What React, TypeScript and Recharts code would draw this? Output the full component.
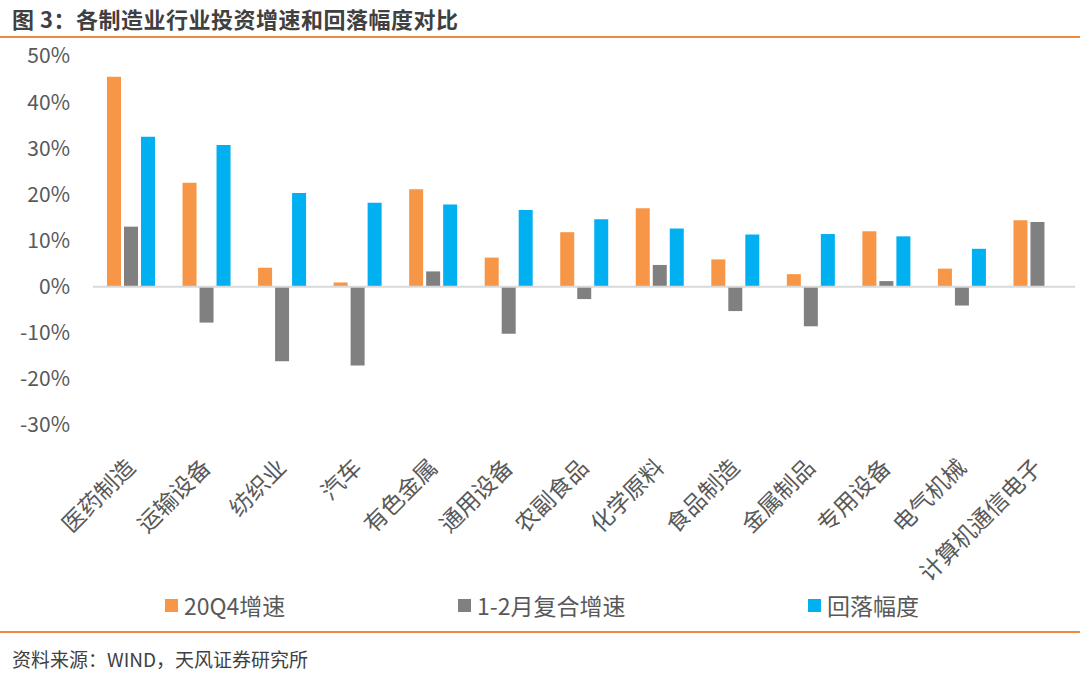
import React from 'react';
import { BarChart, Bar, XAxis, YAxis, ReferenceLine, Legend } from 'recharts';

const categories = ['医药制造', '运输设备', '纺织业', '汽车', '有色金属', '通用设备', '农副食品', '化学原料', '食品制造', '金属制品', '专用设备', '电气机械', '计算机通信电子'];
const q4Growth = [45.5, 22.5, 4.1, 0.9, 21.1, 6.3, 11.8, 17.0, 5.9, 2.7, 12.0, 3.9, 14.4];
const janFebGrowth = [13.0, -7.8, -16.2, -17.1, 3.3, -10.2, -2.7, 4.7, -5.3, -8.6, 1.2, -4.1, 14.0];
const fallback = [32.5, 30.7, 20.3, 18.2, 17.8, 16.6, 14.6, 12.6, 11.3, 11.4, 10.9, 8.2, 0];
const yTicks = [-30, -20, -10, 0, 10, 20, 30, 40, 50];
const seriesNames = ['20Q4增速', '1-2月复合增速', '回落幅度'];
const colors = ['#F79646', '#808080', '#00B0F0'];

const data = categories.map((c, i) => ({
  name: c,
  q4: q4Growth[i],
  jf: janFebGrowth[i],
  fb: fallback[i],
}));

const FONT = '"Noto Sans CJK SC", "Noto Sans", sans-serif';

const XTick = (props: any) => {
  const { x, y, payload } = props;
  const px = x + 6;
  const py = y + 36;
  return (
    <text
      x={px}
      y={py}
      transform={`rotate(-45, ${px}, ${py})`}
      textAnchor="end"
      fill="#595959"
      fontSize={23}
      fontFamily={FONT}
    >
      {payload.value}
    </text>
  );
};

const LegendContent = () => (
  <div style={{ position: 'relative', height: 40, width: 1080, fontFamily: FONT }}>
    {seriesNames.map((n, i) => {
      const lefts = [165, 458, 808];
      return (
        <div key={n} style={{ position: 'absolute', left: lefts[i], top: 0, display: 'flex', alignItems: 'center', height: 40 }}>
          <div style={{ width: 13, height: 13, background: colors[i], marginRight: 6 }} />
          <span style={{ fontSize: 23, color: '#595959' }}>{n}</span>
        </div>
      );
    })}
  </div>
);

export default function App() {
  return (
    <div style={{ position: 'fixed', left: 0, top: 0, width: 1080, height: 675, background: '#fff', fontFamily: FONT, overflow: 'hidden' }}>
      <div style={{ position: 'absolute', left: 12, top: 2, fontSize: 22, fontWeight: 700, color: '#404040', letterSpacing: 0.5 }}>
        图 3：各制造业行业投资增速和回落幅度对比
      </div>
      <div style={{ position: 'absolute', left: 0, top: 36, width: 1080, height: 2, background: '#ED8A3F' }} />
      <div style={{ position: 'absolute', left: 0, top: 40 }}>
        <BarChart
          width={1080}
          height={585}
          data={data}
          margin={{ top: 16, right: 5, left: 0, bottom: 0 }}
          barGap={3}
          barSize={14}
        >
          <YAxis
            domain={[-30, 50]}
            ticks={yTicks}
            interval={0}
            width={93}
            axisLine={false}
            tickLine={false}
            tickSize={0}
            tickMargin={23}
            tick={{ fill: '#595959', fontSize: 21, fontFamily: FONT }}
            tickFormatter={(v: number) => `${v}%`}
          />
          <XAxis
            dataKey="name"
            axisLine={false}
            tickLine={false}
            interval={0}
            height={160}
            tick={<XTick />}
          />
          <ReferenceLine y={0} stroke="#D9D9D9" strokeWidth={2} />
          <Bar dataKey="q4" name={seriesNames[0]} fill={colors[0]} isAnimationActive={false} />
          <Bar dataKey="jf" name={seriesNames[1]} fill={colors[1]} isAnimationActive={false} />
          <Bar dataKey="fb" name={seriesNames[2]} fill={colors[2]} isAnimationActive={false} />
          <Legend verticalAlign="bottom" align="left" height={40} content={<LegendContent />} />
        </BarChart>
      </div>
      <div style={{ position: 'absolute', left: 0, top: 631, width: 1080, height: 2, background: '#ED8A3F' }} />
      <div style={{ position: 'absolute', left: 12, top: 645, fontSize: 19, color: '#404040' }}>
        资料来源：WIND，天风证券研究所
      </div>
    </div>
  );
}
